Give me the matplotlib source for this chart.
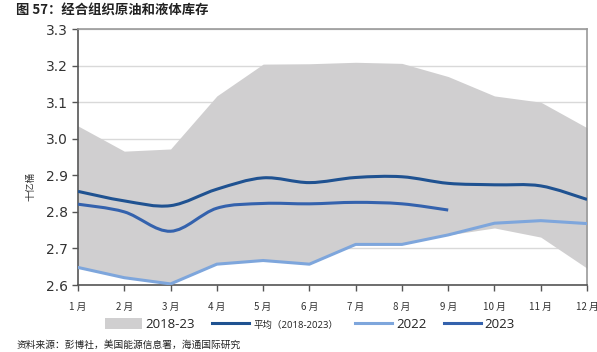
import matplotlib
matplotlib.use("Agg")
import matplotlib.pyplot as plt
from matplotlib.path import Path
from matplotlib.patches import PathPatch, Patch
from matplotlib.lines import Line2D
import numpy as np

plt.rcParams['font.family'] = ['DejaVu Sans', 'Noto Sans CJK SC']

# data (billion barrels)
months = [1, 2, 3, 4, 5, 6, 7, 8, 9, 10, 11, 12]
month_labels = [f"{m} 月" for m in months]
band_high = [3.035, 2.966, 2.972, 3.117, 3.204, 3.205, 3.209, 3.206, 3.170, 3.117, 3.100, 3.030]
band_low = [2.648, 2.620, 2.603, 2.657, 2.667, 2.657, 2.711, 2.711, 2.737, 2.756, 2.731, 2.646]
avg_1823 = [2.856, 2.830, 2.817, 2.862, 2.893, 2.880, 2.894, 2.896, 2.878, 2.874, 2.871, 2.834]
y2022 = [2.648, 2.620, 2.603, 2.657, 2.667, 2.657, 2.711, 2.711, 2.737, 2.769, 2.776, 2.768]
y2023 = [2.821, 2.800, 2.747, 2.810, 2.823, 2.822, 2.826, 2.822, 2.805]

C_BAND = "#d0cfd0"
C_AVG = "#1f5291"
C_22 = "#7ea6dc"
C_23 = "#3462ad"


def smooth_path(x, y):
    """Catmull-Rom style bezier path through the points (Excel smoothed line look)."""
    x = np.asarray(x, float)
    y = np.asarray(y, float)
    verts = [(x[0], y[0])]
    codes = [Path.MOVETO]
    n = len(x)
    for i in range(n - 1):
        p0 = (x[max(i - 1, 0)], y[max(i - 1, 0)])
        p1 = (x[i], y[i])
        p2 = (x[i + 1], y[i + 1])
        p3 = (x[min(i + 2, n - 1)], y[min(i + 2, n - 1)])
        c1 = (p1[0] + (p2[0] - p0[0]) / 6, p1[1] + (p2[1] - p0[1]) / 6)
        c2 = (p2[0] - (p3[0] - p1[0]) / 6, p2[1] - (p3[1] - p1[1]) / 6)
        verts += [c1, c2, p2]
        codes += [Path.CURVE4] * 3
    return Path(verts, codes)


fig = plt.figure(figsize=(5.97, 3.52), dpi=100)
ax = fig.add_axes([0.1307, 0.1903, 0.8526, 0.7273])

ax.fill_between(months, band_low, band_high, color=C_BAND, linewidth=0, zorder=1)
# 2022 is drawn with straight segments, the others smoothed
ax.plot(months, y2022, color=C_22, linewidth=2.2, zorder=3, solid_joinstyle="round")
for ys, col in [(avg_1823, C_AVG), (y2023, C_23)]:
    ax.add_patch(PathPatch(smooth_path(months[:len(ys)], ys), facecolor="none",
                           edgecolor=col, linewidth=2.2, zorder=3, capstyle="butt"))

ax.set_xlim(1, 12)
ax.set_ylim(2.6, 3.3)
ax.set_yticks(np.arange(2.6, 3.31, 0.1))
ax.set_yticklabels([f"{v:.1f}" for v in np.arange(2.6, 3.31, 0.1)], fontsize=10, color="#333333")
ax.set_xticks(months)
ax.set_xticklabels(month_labels, fontsize=7, family=['Noto Sans CJK SC'], color="#333333")
ax.tick_params(axis="x", length=4, width=1, color="#555555", pad=8)
ax.tick_params(axis="y", length=4, width=1, color="#555555", pad=3)
ax.grid(axis="y", color="#d9d9d9", linewidth=1, zorder=0)
ax.set_axisbelow(True)
for side in ["left", "bottom"]:
    ax.spines[side].set_color("#555555")
    ax.spines[side].set_linewidth(1.2)
for side in ["top", "right"]:
    ax.spines[side].set_color("#999999")
    ax.spines[side].set_linewidth(1.2)

fig.text(0.051, 0.47, "十亿桶", rotation=90, fontsize=7, family=['Noto Sans CJK SC'],
         color="#333333", ha="center", va="center")

fig.text(0.027, 0.97, "图 57：经合组织原油和液体库存", fontsize=9.6, fontweight="bold",
         family=['Noto Sans CJK SC'], color="#222222", ha="left", va="center")
fig.text(0.027, 0.02, "资料来源：彭博社，美国能源信息署，海通国际研究", fontsize=7,
         family=['Noto Sans CJK SC'], color="#222222", ha="left", va="center")

handles = [Patch(facecolor=C_BAND, edgecolor="none"),
           Line2D([], [], color=C_AVG, linewidth=2.2),
           Line2D([], [], color=C_22, linewidth=2.2),
           Line2D([], [], color=C_23, linewidth=2.2)]
labels = ["2018-23", "平均（2018-2023）", "2022", "2023"]
leg = fig.legend(handles, labels, loc="center", bbox_to_anchor=(0.519, 0.077), ncol=4,
                 frameon=False, handlelength=2.8, handletextpad=0.3, columnspacing=1.3,
                 handleheight=0.9, prop={"size": 9.5})
for t, size in zip(leg.get_texts(), [9.5, 6.8, 9.5, 9.5]):
    t.set_fontsize(size)
    t.set_family(['Open Sans', 'Noto Sans CJK SC'])
    t.set_color("#222222")

fig.savefig("out.png", dpi=100)
